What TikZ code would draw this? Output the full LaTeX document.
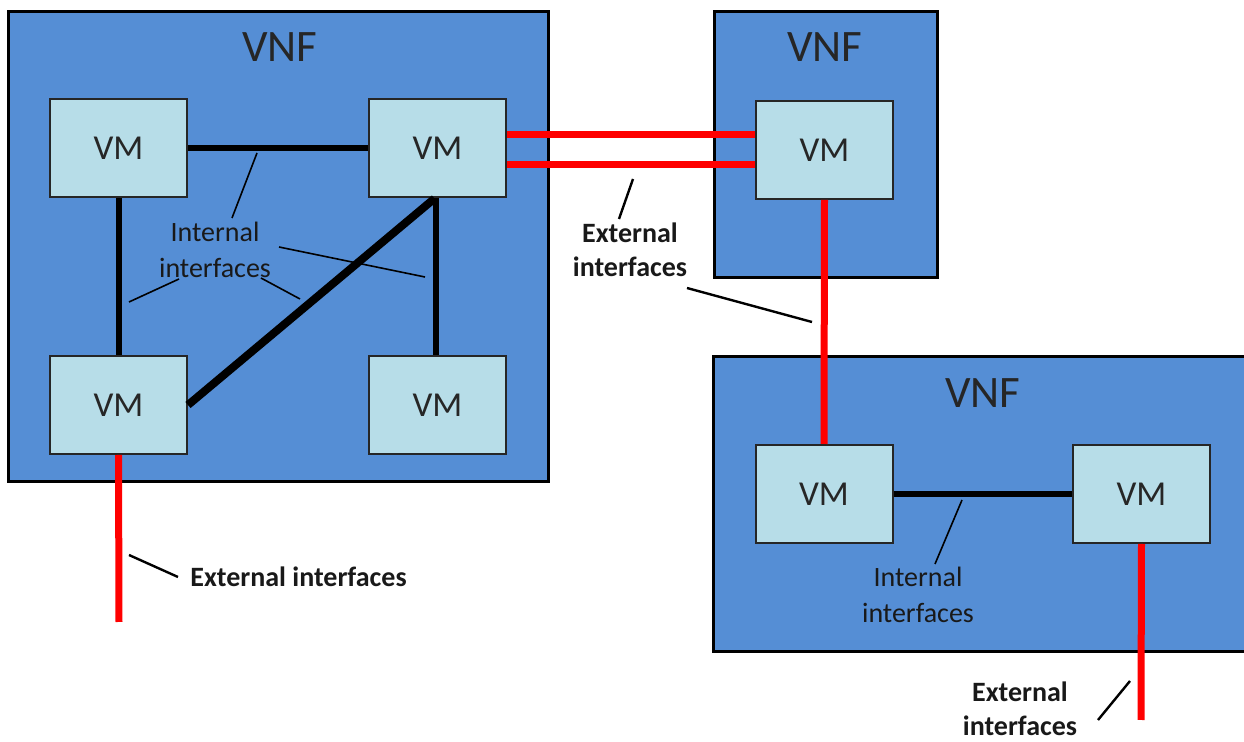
\documentclass[tikz,border=0pt]{standalone}
\usepackage{fontspec}
\setmainfont{Carlito}
\definecolor{vnfblue}{RGB}{85,142,213}
\definecolor{vmblue}{RGB}{183,221,232}
\definecolor{extred}{RGB}{255,0,0}
\begin{document}
\begin{tikzpicture}[x=0.5pt,y=-0.5pt,
  vnf/.style={draw=black, line width=1.5pt, fill=vnfblue, inner sep=0pt},
  vnflabel/.style={font=\fontsize{22.5}{26}\selectfont, text=black!85},
  vm/.style={draw=black!85, line width=1pt, fill=vmblue, inner sep=0pt,
    minimum width=68.5pt, minimum height=49pt, font=\fontsize{17.5}{20}\selectfont, text=black!85},
  intf/.style={line width=3pt, black},
  diag/.style={line width=4pt, black},
  ext/.style={extred, line width=3.5pt},
  lead/.style={line width=0.8pt, black},
  lbl/.style={font=\fontsize{14}{18}\selectfont, align=center, inner sep=0pt, text=black!90},
  extlbl/.style={font=\bfseries\fontsize{14}{17}\selectfont, align=center, inner sep=0pt, text=black!90}]
\useasboundingbox (0,0) rectangle (1244,742);
% VNF containers
\node[vnf, minimum width=270pt, minimum height=235pt] (vnfA) at (278,247) {};
\node[vnf, minimum width=111.5pt, minimum height=133pt] (vnfB) at (825.5,145) {};
\node[vnf, minimum width=270pt, minimum height=147.5pt] (vnfC) at (983,504.5) {};
\node[vnflabel] (vnfAl) at (280,47) {VNF};
\node[vnflabel] (vnfBl) at (825,47) {VNF};
\node[vnflabel] (vnfCl) at (983,393) {VNF};
% VMs
\node[vm] (tl) at (118.5,148.5) {VM};
\node[vm] (tr) at (437.5,148.5) {VM};
\node[vm] (bl) at (118.5,405) {VM};
\node[vm] (br) at (437.5,405) {VM};
\node[vm] (vb) at (824.5,150) {VM};
\node[vm] (vc) at (824,494) {VM};
\node[vm] (vd) at (1141.5,494) {VM};
% internal interfaces
\draw[intf] (tl.east) -- (tr.west);
\draw[intf] (tl.south) -- (bl.north);
\draw[intf] ([xshift=-0.75pt]tr.south) -- ([xshift=-0.75pt]br.north);
\draw[diag] (bl.east) -- ([xshift=-1.5pt]tr.south);
\draw[intf] (vc.east) -- (vd.west);
% external interfaces
\draw[ext] ([yshift=7pt]tr.east) -- ([yshift=7pt]tr.east -| vb.west);
\draw[ext] ([yshift=-8pt]tr.east) -- ([yshift=-8pt]tr.east -| vb.west);
\draw[ext] (vb.south) -- (vc.north);
\coordinate (blend) at (119,622);
\draw[ext] (bl.south) -- (blend);
\coordinate (vdend) at (1141,720);
\draw[ext] (vd.south) -- (vdend);
% labels
\node[lbl] (intA) at (215,250) {Internal\\interfaces};
\node[extlbl] (extB) at (630,250) {External\\interfaces};
\node[lbl] (intC) at (918,595) {Internal\\interfaces};
\node[extlbl] (extD) at (1020,709) {External\\interfaces};
\node[extlbl, anchor=west] (extA) at (190,577) {External interfaces};
% leader lines
\draw[lead] (257,153) -- (232,218);
\draw[lead] (179,279) -- (129,302);
\draw[lead] (261,278) -- (300,299);
\draw[lead] (279,247) -- (425,277);
\draw[lead, line width=1.2pt] (633,179) -- (619,219);
\draw[lead, line width=1.2pt] (687,288) -- (812,322);
\draw[lead] (962,500) -- (935,564);
\draw[lead, line width=1.2pt] (1130,681) -- (1098,720);
\draw[lead, line width=1.2pt] (129,555) -- (178,577);
\end{tikzpicture}
\end{document}
